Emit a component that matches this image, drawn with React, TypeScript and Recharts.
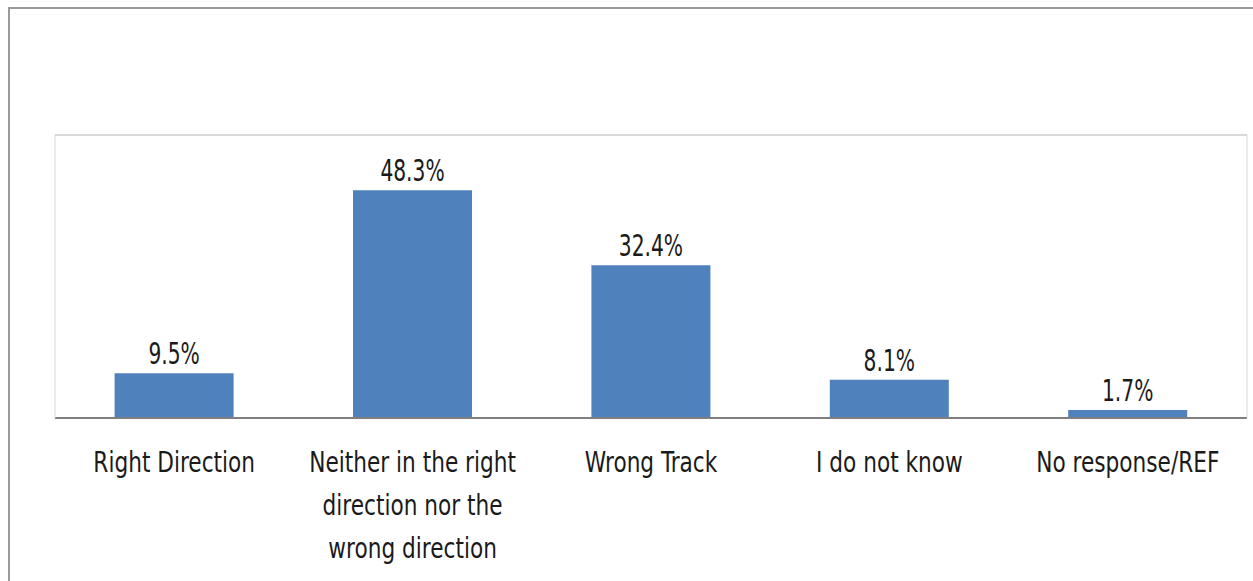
import { Bar, BarChart, LabelList, ReferenceLine, XAxis, YAxis } from 'recharts'

const categories = [
  'Right Direction',
  'Neither in the right direction nor the wrong direction',
  'Wrong Track',
  'I do not know',
  'No response/REF',
]
const shares = [9.5, 48.3, 32.4, 8.1, 1.7]

const data = categories.map((name, i) => ({ name, value: shares[i] }))

const FONT = '"DejaVu Sans Condensed", "Liberation Sans Narrow", sans-serif'
const INK = '#1a1a1a'

// the original labels are set in a tall narrow face, so squeeze the text sideways
const TICK_SIZE = 28
const TICK_SQUEEZE = 0.86
const LABEL_SIZE = 30
const LABEL_SQUEEZE = 0.75

let ctx: CanvasRenderingContext2D | null = null
function wrap(label: string, maxWidth: number) {
  if (!ctx) ctx = document.createElement('canvas').getContext('2d')
  if (!ctx) return [label]
  ctx.font = `${TICK_SIZE}px ${FONT}`
  const lines: string[] = []
  let line = ''
  for (const word of label.split(' ')) {
    const next = line ? `${line} ${word}` : word
    if (line && ctx.measureText(next).width * TICK_SQUEEZE > maxWidth) {
      lines.push(line)
      line = word
    } else {
      line = next
    }
  }
  if (line) lines.push(line)
  return lines
}

function CategoryTick({ x, y, payload }: any) {
  const lines = wrap(payload.value, 218)
  return (
    <g transform={`translate(${x},${y})`}>
      <text
        transform={`scale(${TICK_SQUEEZE},1)`}
        textAnchor="middle"
        fontSize={TICK_SIZE}
        fontFamily={FONT}
        fill={INK}
      >
        {lines.map((l, i) => (
          <tspan key={i} x={0} dy={i === 0 ? '0.71em' : 43}>
            {l}
          </tspan>
        ))}
      </text>
    </g>
  )
}

function ValueLabel({ x, y, width, value }: any) {
  return (
    <g transform={`translate(${x + width / 2},${y - 9})`}>
      <text
        transform={`scale(${LABEL_SQUEEZE},1)`}
        textAnchor="middle"
        fontSize={LABEL_SIZE}
        fontFamily={FONT}
        fill={INK}
      >
        {`${Number(value).toFixed(1)}%`}
      </text>
    </g>
  )
}

export default function App() {
  return (
    <div
      style={{
        position: 'fixed',
        left: 8,
        top: 7,
        width: 1245,
        height: 574,
        borderTop: '2px solid #9a9a9a',
        borderLeft: '2px solid #9a9a9a',
        overflow: 'hidden',
        background: '#fff',
      }}
    >
      <BarChart
        width={1243}
        height={572}
        data={data}
        margin={{ top: 126, right: 5, bottom: 0, left: 44 }}
        barCategoryGap="25%"
      >
        <XAxis
          dataKey="name"
          height={163}
          interval={0}
          tickLine={false}
          tickSize={0}
          tickMargin={34}
          axisLine={{ stroke: '#7f7f7f', strokeWidth: 2 }}
          tick={<CategoryTick />}
        />
        <YAxis
          domain={[0, 60]}
          width={1}
          tick={false}
          tickLine={false}
          axisLine={{ stroke: '#d9d9d9' }}
        />
        <YAxis
          yAxisId="right"
          orientation="right"
          domain={[0, 60]}
          width={1}
          tick={false}
          tickLine={false}
          axisLine={{ stroke: '#d9d9d9' }}
        />
        <ReferenceLine y={60} stroke="#d9d9d9" strokeWidth={2} />
        <Bar dataKey="value" fill="#4f81bd" isAnimationActive={false}>
          <LabelList dataKey="value" content={<ValueLabel />} />
        </Bar>
      </BarChart>
    </div>
  )
}
